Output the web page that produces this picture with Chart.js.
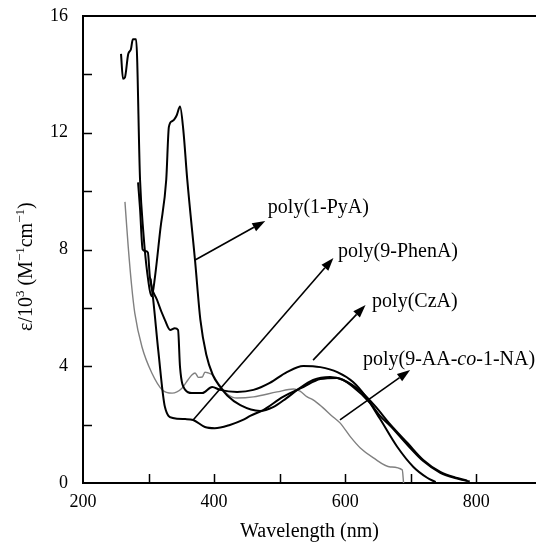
<!DOCTYPE html>
<html>
<head>
<meta charset="utf-8">
<script src="https://cdn.jsdelivr.net/npm/chart.js@4/dist/chart.umd.min.js"></script>
<style>
  html, body { margin: 0; padding: 0; background: #fff; overflow: hidden; }
  #wrap { width: 536px; height: 542px; }
</style>
</head>
<body>
<div id="wrap"><canvas id="spectra"></canvas></div>
<script>
// wavelength (nm) and epsilon (10^3 M^-1 cm^-1)
const pyaX = [258, 261, 264, 269, 273, 276, 281, 287, 292, 298, 305, 310, 318, 327, 331, 336, 339, 343, 348, 353, 359, 371, 379, 388, 398, 409, 420, 440, 470, 490, 510, 527, 551, 577, 597, 623, 645, 669, 695, 719, 745, 771, 786];
const pyaY = [14.7, 13.85, 13.9, 14.7, 14.85, 15.2, 15.2, 10.4, 8.6, 7.2, 6.4, 7.1, 8.7, 10.4, 12.2, 12.4, 12.45, 12.6, 12.9, 12.1, 10.4, 7.6, 5.6, 4.4, 3.7, 3.3, 3.0, 2.67, 2.47, 2.6, 2.9, 3.19, 3.53, 3.63, 3.53, 3.15, 2.65, 2.0, 1.37, 0.79, 0.38, 0.17, 0.08];

const phenX = [303, 307, 315, 325, 337, 356, 368, 386, 401, 424, 444, 455, 475, 505, 536, 562, 588, 612, 638, 653, 669, 695, 719, 745, 771, 790];
const phenY = [7.0, 6.3, 4.5, 2.6, 2.23, 2.19, 2.16, 1.92, 1.88, 1.99, 2.16, 2.3, 2.5, 2.95, 3.29, 3.56, 3.6, 3.29, 2.74, 2.3, 1.95, 1.3, 0.75, 0.35, 0.15, 0.05];

const czaX = [284, 287, 291, 295, 299, 302, 313, 325, 333, 340, 345, 348, 356, 366, 382, 397, 409, 435, 460, 485, 511, 536, 562, 588, 612, 630, 653, 679, 704, 725, 738];
const czaY = [10.3, 9.4, 8.0, 7.95, 7.9, 7.06, 6.27, 5.58, 5.24, 5.3, 5.24, 3.97, 3.19, 3.08, 3.08, 3.29, 3.19, 3.12, 3.19, 3.43, 3.8, 4.01, 3.97, 3.8, 3.46, 3.0, 2.2, 1.25, 0.55, 0.18, 0.03];

const aanX = [264, 266, 269, 274, 279, 290, 305, 321, 336, 351, 360, 366, 371, 376, 382, 386, 391, 398, 406, 420, 435, 460, 496, 521, 531, 542, 551, 565, 582, 592, 608, 623, 643, 669, 687, 689];
const aanY = [9.63, 9.0, 8.09, 6.8, 5.82, 4.66, 3.77, 3.19, 3.08, 3.25, 3.53, 3.7, 3.77, 3.62, 3.63, 3.8, 3.77, 3.7, 3.43, 3.05, 2.91, 2.95, 3.12, 3.22, 3.15, 2.95, 2.85, 2.6, 2.25, 2.06, 1.58, 1.2, 0.86, 0.55, 0.45, 0.0];

const xTicks = [200, 300, 400, 500, 600, 700, 800];
const xLabelled = [200, 400, 600, 800];
const yTicks = [0, 2, 4, 6, 8, 10, 12, 14, 16];
const yLabelled = [0, 4, 8, 12, 16];

const serif = "'Liberation Serif', 'Times New Roman', serif";

function pts(xs, ys) {
  return xs.map((v, i) => ({ x: v, y: ys[i] }));
}

function curve(xs, ys, color, width) {
  return {
    data: pts(xs, ys),
    borderColor: color,
    borderWidth: width,
    pointRadius: 0,
    cubicInterpolationMode: 'monotone',
    fill: false
  };
}

// arrows + names, anchored in data units (tail, head, text start)
const notes = [
  { tail: [371, 7.64], head: [478, 8.98], at: [482, 9.42], parts: [['poly(1-PyA)', false]] },
  { tail: [368, 2.16], head: [582, 7.71], at: [589, 7.91], parts: [['poly(9-PhenA)', false]] },
  { tail: [551, 4.21], head: [631, 6.10], at: [641, 6.20], parts: [['poly(CzA)', false]] },
  { tail: [592, 2.16], head: [699, 3.87], at: [627, 4.21], parts: [['poly(9-AA-', false], ['co', true], ['-1-NA)', false]] }
];

const decorations = {
  id: 'decorations',
  afterDraw(chart) {
    const { ctx, chartArea: a, scales: { x, y } } = chart;
    ctx.save();
    ctx.strokeStyle = '#000';
    ctx.fillStyle = '#000';

    // top frame line
    ctx.lineWidth = 2;
    ctx.beginPath();
    ctx.moveTo(a.left - 1, a.top);
    ctx.lineTo(chart.width, a.top);
    ctx.stroke();

    // inward tick marks
    ctx.lineWidth = 1.5;
    ctx.beginPath();
    x.ticks.forEach(t => {
      if (t.value <= x.min) return;
      const px = Math.round(x.getPixelForValue(t.value)) + 0.5;
      ctx.moveTo(px, a.bottom);
      ctx.lineTo(px, a.bottom - 9);
    });
    y.ticks.forEach(t => {
      if (t.value <= y.min || t.value >= y.max) return;
      const py = Math.round(y.getPixelForValue(t.value)) + 0.5;
      ctx.moveTo(a.left, py);
      ctx.lineTo(a.left + 9, py);
    });
    ctx.stroke();

    // y axis title with superscripts
    ctx.save();
    ctx.translate(32, 331);
    ctx.rotate(-Math.PI / 2);
    ctx.textBaseline = 'alphabetic';
    ctx.textAlign = 'left';
    let cx = 0;
    [['ε/10', false], ['3', true], [' (M', false], ['−1', true], ['cm', false], ['−1', true], [')', false]].forEach(([s, sup]) => {
      ctx.font = (sup ? '13px ' : '20px ') + serif;
      ctx.fillText(s, cx, sup ? -8 : 0);
      cx += ctx.measureText(s).width;
    });
    ctx.restore();

    // arrows and curve names
    notes.forEach(n => {
      const x0 = x.getPixelForValue(n.tail[0]), y0 = y.getPixelForValue(n.tail[1]);
      const x1 = x.getPixelForValue(n.head[0]), y1 = y.getPixelForValue(n.head[1]);
      const ang = Math.atan2(y1 - y0, x1 - x0);
      const len = 13, half = 4.5;
      ctx.lineWidth = 1.6;
      ctx.beginPath();
      ctx.moveTo(x0, y0);
      ctx.lineTo(x1 - len * Math.cos(ang), y1 - len * Math.sin(ang));
      ctx.stroke();
      ctx.beginPath();
      ctx.moveTo(x1, y1);
      ctx.lineTo(x1 - len * Math.cos(ang) + half * Math.sin(ang), y1 - len * Math.sin(ang) - half * Math.cos(ang));
      ctx.lineTo(x1 - len * Math.cos(ang) - half * Math.sin(ang), y1 - len * Math.sin(ang) + half * Math.cos(ang));
      ctx.closePath();
      ctx.fill();

      let tx = x.getPixelForValue(n.at[0]);
      const ty = y.getPixelForValue(n.at[1]);
      ctx.textBaseline = 'middle';
      ctx.textAlign = 'left';
      n.parts.forEach(([s, it]) => {
        ctx.font = (it ? 'italic 20px ' : '20px ') + serif;
        ctx.fillText(s, tx, ty);
        tx += ctx.measureText(s).width;
      });
    });

    ctx.restore();
  }
};

Chart.defaults.font.family = serif;
Chart.defaults.font.size = 18;
Chart.defaults.color = '#000';

new Chart(document.getElementById('spectra'), {
  type: 'line',
  data: {
    datasets: [
      curve(pyaX, pyaY, '#000', 2),
      curve(phenX, phenY, '#000', 2),
      curve(czaX, czaY, '#000', 2),
      curve(aanX, aanY, '#808080', 1.4)
    ]
  },
  options: {
    responsive: true,
    maintainAspectRatio: false,
    devicePixelRatio: 1,
    animation: false,
    layout: { padding: { top: 16, right: 0, left: 0, bottom: 0 } },
    plugins: { legend: { display: false }, tooltip: { enabled: false } },
    scales: {
      x: {
        type: 'linear',
        bounds: 'data',
        min: 200,
        max: 891,
        afterFit: s => { s.height = 59; s.paddingRight = 0; },
        afterBuildTicks: s => { s.ticks = xTicks.map(v => ({ value: v })); },
        grid: { display: false, drawTicks: false },
        border: { display: true, color: '#000', width: 2 },
        ticks: {
          padding: 8,
          maxRotation: 0,
          autoSkip: false,
          callback: v => xLabelled.includes(v) ? String(v) : ''
        },
        title: {
          display: true,
          text: 'Wavelength (nm)',
          font: { size: 20, lineHeight: 1 },
          padding: { top: 0, bottom: 0 }
        }
      },
      y: {
        type: 'linear',
        bounds: 'data',
        min: 0,
        max: 16,
        afterFit: s => { s.width = 83; s.paddingTop = 0; s.paddingBottom = 0; },
        afterBuildTicks: s => { s.ticks = yTicks.map(v => ({ value: v })); },
        grid: { display: false, drawTicks: false },
        border: { display: true, color: '#000', width: 2 },
        ticks: {
          padding: 15,
          autoSkip: false,
          callback: v => yLabelled.includes(v) ? String(v) : ''
        }
      }
    }
  },
  plugins: [decorations]
});
</script>
</body>
</html>
